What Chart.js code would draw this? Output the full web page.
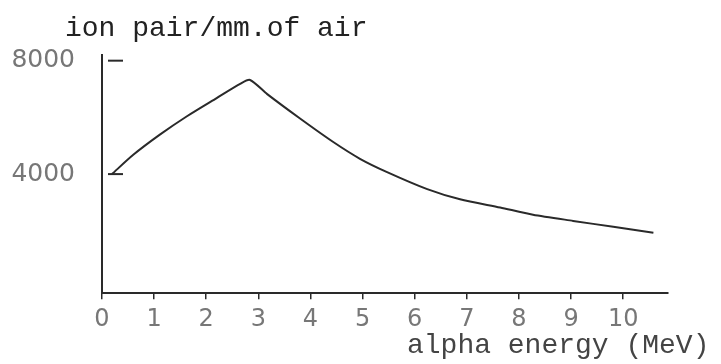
<!DOCTYPE html>
<html>
<head>
<meta charset="utf-8">
<script src="https://cdn.jsdelivr.net/npm/chart.js@4"></script>
<style>
  html, body { margin: 0; padding: 0; background: #fff; }
  #wrap { width: 721px; height: 364px; }
</style>
</head>
<body>
<div id="wrap"><canvas id="chart" width="721" height="364"></canvas></div>
<script>
// --- data ---
const energyMeV = [0.19, 0.6, 1.11, 1.63, 2.2, 2.65, 2.84, 3.17, 3.8, 4.43, 4.95, 5.47, 6.24, 6.87, 7.64, 8.27, 9.04, 9.81, 10.58];
const ionPairs  = [4000, 4680, 5390, 6040, 6680, 7180, 7320, 6820, 5960, 5140, 4540, 4070, 3470, 3110, 2820, 2570, 2350, 2140, 1930];
const xTicks = [0, 1, 2, 3, 4, 5, 6, 7, 8, 9, 10];
const yTicks = [4000, 8000];
const yTitle = "ion pair/mm.of air";
const xTitle = "alpha energy (MeV)";

const ink = "#2a2a2a";
const pencil = "#777";

// titles typed on the page + little inside dashes on the y axis
const paperText = {
  id: "paperText",
  afterDraw(chart) {
    const ctx = chart.ctx;
    const y = chart.scales.y;
    const left = chart.chartArea.left;
    ctx.save();
    ctx.strokeStyle = ink;
    ctx.lineWidth = 2;
    yTicks.forEach(v => {
      const py = y.getPixelForValue(v);
      ctx.beginPath();
      ctx.moveTo(left + 6, py);
      ctx.lineTo(left + 21, py);
      ctx.stroke();
    });
    ctx.font = "28px 'Liberation Mono'";
    ctx.textBaseline = "alphabetic";
    ctx.fillStyle = "#222";
    ctx.fillText(yTitle, 65, 36);
    ctx.fillStyle = "#444";
    ctx.fillText(xTitle, 407, 353);
    ctx.restore();
  }
};

const chart = new Chart(document.getElementById("chart"), {
  type: "line",
  data: {
    datasets: [{
      data: energyMeV.map((e, i) => ({ x: e, y: ionPairs[i] })),
      borderColor: ink,
      borderWidth: 2,
      pointRadius: 0,
      tension: 0.25,
      fill: false
    }]
  },
  options: {
    responsive: false,
    animation: false,
    layout: { padding: { top: 55, left: 12, right: 53, bottom: 24 } },
    plugins: { legend: { display: false }, tooltip: { enabled: false } },
    scales: {
      x: {
        type: "linear",
        min: 0,
        max: 10.86,
        afterBuildTicks: s => { s.ticks = xTicks.map(v => ({ value: v })); },
        grid: { drawOnChartArea: false, tickLength: 6, color: ink, lineWidth: 1.5 },
        border: { color: ink, width: 2 },
        ticks: { color: pencil, font: { family: "DejaVu Sans", size: 24 }, padding: 6, maxRotation: 0,
                 callback: v => String(v) }
      },
      y: {
        min: -200,
        max: 8200,
        afterBuildTicks: s => { s.ticks = yTicks.map(v => ({ value: v })); },
        afterFit: s => { s.width = 90; },
        grid: { drawOnChartArea: false, drawTicks: false },
        border: { color: ink, width: 2 },
        ticks: { color: pencil, font: { family: "DejaVu Sans", size: 25 }, padding: 27,
                 callback: v => String(v) }
      }
    }
  },
  plugins: [paperText]
});
</script>
</body>
</html>
